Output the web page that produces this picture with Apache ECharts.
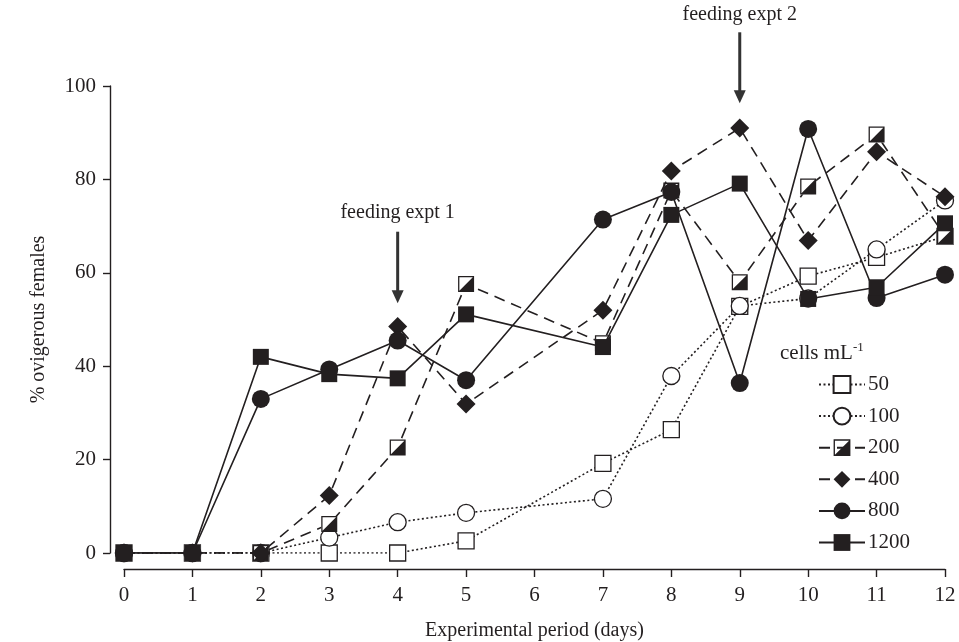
<!DOCTYPE html>
<html><head><meta charset="utf-8">
<script src="https://cdn.jsdelivr.net/npm/echarts@6/dist/echarts.min.js"></script>
<style>html,body{margin:0;padding:0;background:#fff}#c{width:959px;height:642px}</style>
</head><body><div id="c"></div>
<script>
const days = [0,1,2,3,4,5,7,8,9,10,11,12];
const s50   = [0,0,0,0,0,2.6,19.2,26.4,52.8,59.3,63.3,67.8];
const s100  = [0,0,0,3.3,6.6,8.6,11.6,37.9,52.9,54.5,65.0,75.5];
const s200  = [0,0,0,6.2,22.6,57.6,44.9,77.6,58.0,78.5,89.6,67.8];
const s400  = [0,0,0,12.3,48.5,31.9,52.0,81.8,91.0,66.9,85.9,76.3];
const s800  = [0,0,33.0,39.3,45.5,37.0,71.4,77.3,36.4,90.8,54.6,59.6];
const s1200 = [0,0,42.0,38.3,37.4,51.1,44.1,72.4,79.1,54.4,56.9,70.6];
const xTicks = [0,1,2,3,4,5,6,7,8,9,10,11,12];
const yTicks = [0,20,40,60,80,100];
const legendNames = ['50','100','200','400','800','1200'];
const annotations = [
  {text:'feeding expt 1', day:4, top:68.8, tip:53.5, label:72.8},
  {text:'feeding expt 2', day:9, top:111.5, tip:96.3, label:115.3}
];

const INK = '#231f20';
const FONT = "'Liberation Serif','Times New Roman',serif";
const pts = arr => days.map((d,i)=>[d, arr[i]]);
const halfSq = 'path://M0,0 L20,0 L20,20 L0,20 Z M1.6,1.6 L1.6,18.4 L18.4,18.4 L18.4,1.6 Z M18.4,1.6 L18.4,18.4 L1.6,18.4 Z';

const chart = echarts.init(document.getElementById('c'), null, {renderer:'canvas'});
const base = {type:'line', animation:false, showAllSymbol:true};
const option = {
  backgroundColor:'#fff',
  animation:false,
  grid:{left:124, right:14, top:86, bottom:89, containLabel:false, outerBoundsMode:'none'},
  xAxis:{
    type:'value', min:0, max:12, interval:1, offset:16,
    name:'Experimental period (days)', nameLocation:'middle', nameGap:52,
    nameTextStyle:{fontFamily:FONT, fontSize:20, color:INK},
    axisLine:{onZero:false, lineStyle:{color:INK, width:1.4}},
    axisTick:{length:8, lineStyle:{color:INK, width:1.4}},
    axisLabel:{fontFamily:FONT, fontSize:21, color:INK, margin:16},
    splitLine:{show:false}
  },
  yAxis:{
    type:'value', min:0, max:100, interval:20, offset:14,
    name:'% ovigerous females', nameLocation:'middle', nameGap:61,
    nameTextStyle:{fontFamily:FONT, fontSize:20, color:INK},
    axisLine:{onZero:false, lineStyle:{color:INK, width:1.4}},
    axisTick:{length:7, lineStyle:{color:INK, width:1.4}},
    axisLabel:{fontFamily:FONT, fontSize:21, color:INK, margin:14},
    splitLine:{show:false}
  },
  legend:{
    data:legendNames, orient:'vertical', left:813, top:369,
    itemWidth:46, itemHeight:21, itemGap:10.6,
    textStyle:{fontFamily:FONT, fontSize:21, color:INK, padding:[0,0,0,-2]},
    backgroundColor:'transparent'
  },
  series:[
    Object.assign({}, base, {name:'50', data:pts(s50), symbol:'rect', symbolSize:16,
      itemStyle:{color:'#fff', borderColor:INK, borderWidth:1.3},
      lineStyle:{color:INK, width:1.6, type:[2,2.5]}, z:3}),
    Object.assign({}, base, {name:'100', data:pts(s100), symbol:'circle', symbolSize:17,
      itemStyle:{color:'#fff', borderColor:INK, borderWidth:1.3},
      lineStyle:{color:INK, width:1.6, type:[2,2.5]}, z:3}),
    Object.assign({}, base, {name:'200bg', data:pts(s200), symbol:'rect', symbolSize:16,
      itemStyle:{color:'#fff', borderWidth:0}, lineStyle:{width:0, opacity:0}, z:4, silent:true}),
    Object.assign({}, base, {name:'200', data:pts(s200), symbol:halfSq, symbolSize:16,
      itemStyle:{color:INK, borderWidth:0},
      lineStyle:{color:INK, width:1.6, type:[11,7]}, z:4}),
    Object.assign({}, base, {name:'400', data:pts(s400), symbol:'diamond', symbolSize:[19,19],
      itemStyle:{color:INK, borderWidth:0},
      lineStyle:{color:INK, width:1.6, type:[11,7]}, z:5}),
    Object.assign({}, base, {name:'800', data:pts(s800), symbol:'circle', symbolSize:18,
      itemStyle:{color:INK, borderWidth:0},
      lineStyle:{color:INK, width:1.6}, z:5}),
    Object.assign({}, base, {name:'1200', data:pts(s1200), symbol:'rect', symbolSize:16,
      itemStyle:{color:INK, borderWidth:0},
      lineStyle:{color:INK, width:1.6}, z:6})
  ]
};
chart.setOption(option);

const g = [];
g.push({type:'text', left:780, top:341, z:20,
  style:{text:'cells mL{s|-1}', fontFamily:FONT, fontSize:21, fill:INK,
    rich:{s:{fontFamily:FONT, fontSize:13, fill:INK, padding:[0,0,12,0]}}}});
annotations.forEach(a=>{
  const p1 = chart.convertToPixel({gridIndex:0}, [a.day, a.top]);
  const p2 = chart.convertToPixel({gridIndex:0}, [a.day, a.tip]);
  const pl = chart.convertToPixel({gridIndex:0}, [a.day, a.label]);
  g.push({type:'line', z:20, shape:{x1:p1[0], y1:p1[1], x2:p2[0], y2:p2[1]-10},
    style:{stroke:'#333', lineWidth:3}});
  g.push({type:'polygon', z:20, shape:{points:[[p2[0]-6,p2[1]-13],[p2[0]+6,p2[1]-13],[p2[0],p2[1]]]},
    style:{fill:'#333'}});
  g.push({type:'text', z:20, x:pl[0], y:pl[1],
    style:{text:a.text, fontFamily:FONT, fontSize:20, fill:INK, align:'center', verticalAlign:'middle'}});
});
chart.setOption({graphic:g});
</script>
</body></html>
